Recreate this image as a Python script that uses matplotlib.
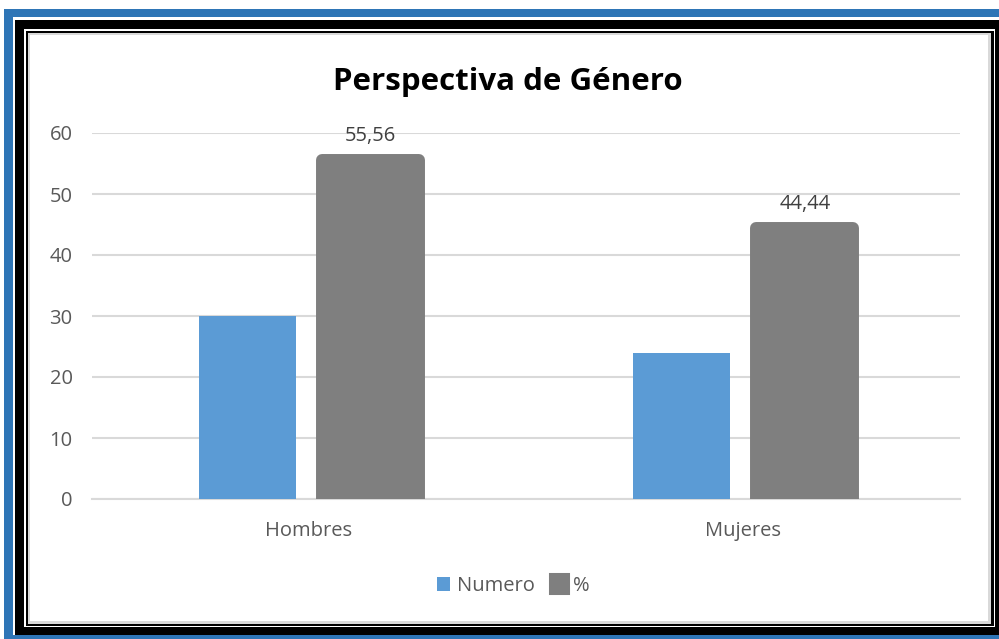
import matplotlib
matplotlib.use('Agg')
import matplotlib.pyplot as plt
from matplotlib.patches import Rectangle
import numpy as np

# ------------ dane
categorias = ['Hombres', 'Mujeres']
numero = [30, 24]
porcentaje = [55.56, 44.44]
etiquetas_pct = ['55,56', '44,44']
titulo = 'Perspectiva de Género'

W, H = 999, 639
plt.rcParams['font.family'] = ['Open Sans', 'DejaVu Sans']
fs = 14.5

fig = plt.figure(figsize=(W / 100, H / 100), dpi=100)
fig.patch.set_facecolor('white')


def marco(x0, y0, x1, y1, color):
    # rectangulo en pixeles (origen arriba-izquierda)
    fig.add_artist(Rectangle((x0 / W, 1 - y1 / H), (x1 - x0) / W, (y1 - y0) / H,
                             transform=fig.transFigure, facecolor=color,
                             edgecolor='none', zorder=-5))


# ------------ marco exterior
marco(4, 9, 1010, 650, '#2e75b6')
marco(13, 17, 1010, 635, 'white')
marco(15, 20, 1010, 635, 'black')
marco(24, 29, 995, 627, 'white')
marco(25.5, 31, 994, 626, 'black')
marco(28, 33, 991, 624, '#d9d9d9')
marco(30, 35, 988, 621, 'white')

# ------------ ejes
ax = fig.add_axes([92 / W, 1 - 499 / H, (960 - 92) / W, (499 - 133) / H])
ax.set_facecolor('none')
x = np.arange(len(categorias))
ancho = 0.223
desp = 0.1425

ax.bar(x - desp, numero, ancho, color='#5b9bd5', label='Numero', zorder=3)
ax.bar(x + desp, porcentaje, ancho, color='#7f7f7f', edgecolor='#7f7f7f',
       linewidth=8.6, joinstyle='round', label='%', zorder=3)

for xi, v, t in zip(x, porcentaje, etiquetas_pct):
    ax.annotate(t, (xi + desp, v), xytext=(0, 10), textcoords='offset points',
                ha='center', va='bottom', fontsize=fs, color='#404040')

ax.set_xlim(-0.5, 1.5)
ax.set_ylim(0, 60)
ax.set_yticks(range(0, 61, 10))
ax.set_xticks(x)
ax.set_xticklabels(categorias)
ax.yaxis.grid(True, color='#d9d9d9', linewidth=1.5, zorder=0)
ax.set_axisbelow(True)
for s in ['top', 'right', 'left']:
    ax.spines[s].set_visible(False)
ax.spines['bottom'].set_color('#d9d9d9')
ax.spines['bottom'].set_linewidth(1.5)
ax.tick_params(axis='both', length=0, labelsize=fs, labelcolor='#595959')
ax.tick_params(axis='y', pad=14)
ax.tick_params(axis='x', pad=16)

fig.text(508 / W, 1 - 82 / H, titulo, ha='center', va='center',
         fontsize=22.5, fontweight='bold', color='black')

leg = ax.legend(loc='center', bbox_to_anchor=(513 / W, 1 - 586 / H),
                bbox_transform=fig.transFigure, ncol=2, frameon=False,
                fontsize=fs, handlelength=0.65, handleheight=0.65,
                handletextpad=0.35, columnspacing=0.9)
leg.legend_handles[1].set_linewidth(5.8)
for t in leg.get_texts():
    t.set_color('#595959')

fig.savefig('out.png', dpi=100)
